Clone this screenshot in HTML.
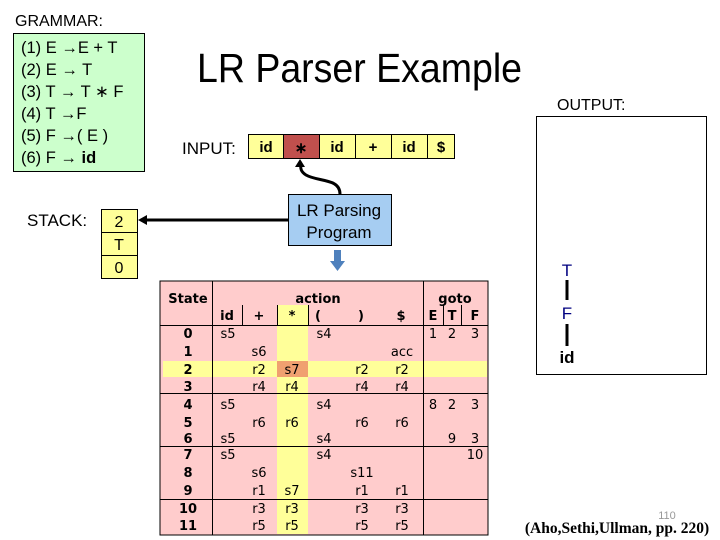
<!DOCTYPE html>
<html><head><meta charset="utf-8"><style>
body{margin:0;background:#fff}
svg{display:block}
</style></head><body>
<svg width="720" height="540" viewBox="0 0 720 540" xmlns="http://www.w3.org/2000/svg" font-family="Liberation Sans, Arial, sans-serif">
<text x="15" y="26" font-size="16">GRAMMAR:</text>
<rect x="13.5" y="33.5" width="131" height="138" fill="#ccffcc" stroke="#000"/>
<g font-size="16.5">
<text x="21" y="53">(1) E  →E + T</text>
<text x="21" y="75">(2) E → T</text>
<text x="21" y="97">(3) T  → T ∗ F</text>
<text x="21" y="119">(4) T  →F</text>
<text x="21" y="141">(5) F  →( E )</text>
<text x="21" y="163">(6) F  → <tspan font-weight="bold">id</tspan></text>
</g>
<text x="197" y="82" font-size="41" textLength="325" lengthAdjust="spacingAndGlyphs">LR Parser Example</text>
<text x="557" y="110" font-size="16">OUTPUT:</text>
<rect x="536.5" y="116.5" width="170" height="258" fill="#fff" stroke="#000"/>
<text x="182" y="154" font-size="17">INPUT:</text>
<g stroke="#000" stroke-width="1">
<rect x="248.5" y="134.5" width="35" height="24" fill="#ffff99"/>
<rect x="283.5" y="134.5" width="36" height="24" fill="#c0504d"/>
<rect x="319.5" y="134.5" width="36" height="24" fill="#ffff99"/>
<rect x="355.5" y="134.5" width="36" height="24" fill="#ffff99"/>
<rect x="391.5" y="134.5" width="36" height="24" fill="#ffff99"/>
<rect x="427.5" y="134.5" width="27" height="24" fill="#ffff99"/>
</g>
<g font-size="15" font-weight="bold" text-anchor="middle">
<text x="266" y="152">id</text><text x="301" y="153">∗</text><text x="337" y="152">id</text><text x="373" y="152">+</text><text x="409" y="152">id</text><text x="441" y="152">$</text>
</g>
<path d="M340 194 C340 178,318 182,306 175 C298 170,302 165,300 162" fill="none" stroke="#000" stroke-width="3"/>
<polygon points="300,159 295,167 305,167" fill="#000"/>
<rect x="288.5" y="194.5" width="103" height="51" fill="#a6cdf2" stroke="#000"/>
<text x="339" y="216" font-size="17" text-anchor="middle">LR Parsing</text>
<text x="339" y="238" font-size="17" text-anchor="middle">Program</text>
<line x1="288" y1="220" x2="144" y2="220" stroke="#000" stroke-width="3"/>
<polygon points="138,220 147,215 147,225" fill="#000"/>
<rect x="334" y="250" width="7" height="12" fill="#4f81bd"/>
<polygon points="330,261 345,261 337.5,271" fill="#4f81bd"/>
<text x="27" y="226" font-size="17">STACK:</text>
<g stroke="#000"><rect x="101.5" y="209.5" width="36" height="23" fill="#ffff99"/><rect x="101.5" y="232.5" width="36" height="23" fill="#ffff99"/><rect x="101.5" y="255.5" width="36" height="23" fill="#ffff99"/></g>
<g font-size="16" text-anchor="middle"><text x="119" y="227">2</text><text x="119" y="250">T</text><text x="119" y="273">0</text></g>
<text x="567" y="276" font-size="17" fill="#000080" text-anchor="middle">T</text>
<line x1="567" y1="280" x2="567" y2="300" stroke="#000" stroke-width="3"/>
<text x="567" y="319" font-size="17" fill="#000080" text-anchor="middle">F</text>
<line x1="567" y1="324" x2="567" y2="346" stroke="#000" stroke-width="3"/>
<text x="567" y="363" font-size="17" font-weight="bold" text-anchor="middle">id</text>
<!-- table -->
<rect x="160" y="281" width="328" height="254" fill="#ffcccc" stroke="#000"/>
<rect x="277" y="305" width="31" height="229" fill="#ffff99"/>
<rect x="163" y="361" width="324" height="16" fill="#ffff99"/>
<rect x="277" y="361" width="31" height="16" fill="#f0a070"/>
<g stroke="#000" stroke-width="1">
<line x1="212.5" y1="281" x2="212.5" y2="535"/>
<line x1="423.5" y1="281" x2="423.5" y2="535"/>
<line x1="242.5" y1="305" x2="242.5" y2="325"/>
<line x1="277.5" y1="305" x2="277.5" y2="325"/>
<line x1="308.5" y1="305" x2="308.5" y2="325"/>
<line x1="443.5" y1="305" x2="443.5" y2="325"/>
<line x1="461.5" y1="305" x2="461.5" y2="325"/>
<line x1="160" y1="325.5" x2="488" y2="325.5"/>
<line x1="160" y1="393.5" x2="488" y2="393.5"/>
<line x1="160" y1="446.5" x2="488" y2="446.5"/>
<line x1="160" y1="499.5" x2="488" y2="499.5"/>
</g>
<g font-family="DejaVu Sans, Verdana, sans-serif" font-size="13" font-weight="bold" text-anchor="middle">
<text x="188" y="303">State</text><text x="318" y="303">action</text><text x="455" y="303">goto</text>
<text x="227" y="320">id</text><text x="259" y="320">+</text><text x="292" y="320">*</text><text x="318" y="320">(</text><text x="361" y="320">)</text><text x="401" y="320">$</text><text x="433" y="320">E</text><text x="452" y="320">T</text><text x="475" y="320">F</text>
<text x="188" y="338">0</text><text x="188" y="356">1</text><text x="188" y="374">2</text><text x="188" y="391">3</text><text x="188" y="409">4</text><text x="188" y="427">5</text><text x="188" y="443">6</text><text x="188" y="459">7</text><text x="188" y="477">8</text><text x="188" y="495">9</text><text x="188" y="513">10</text><text x="188" y="530">11</text>
</g>
<g font-family="DejaVu Sans, Verdana, sans-serif" font-size="13" text-anchor="middle">
<text x="228" y="338">s5</text><text x="324" y="338">s4</text><text x="433" y="338">1</text><text x="452" y="338">2</text><text x="475" y="338">3</text>
<text x="259" y="356">s6</text><text x="402" y="356">acc</text>
<text x="259" y="374">r2</text><text x="292" y="374">s7</text><text x="362" y="374">r2</text><text x="402" y="374">r2</text>
<text x="259" y="391">r4</text><text x="292" y="391">r4</text><text x="362" y="391">r4</text><text x="402" y="391">r4</text>
<text x="228" y="409">s5</text><text x="324" y="409">s4</text><text x="433" y="409">8</text><text x="452" y="409">2</text><text x="475" y="409">3</text>
<text x="259" y="427">r6</text><text x="292" y="427">r6</text><text x="362" y="427">r6</text><text x="402" y="427">r6</text>
<text x="228" y="443">s5</text><text x="324" y="443">s4</text><text x="452" y="443">9</text><text x="475" y="443">3</text>
<text x="228" y="459">s5</text><text x="324" y="459">s4</text><text x="475" y="459">10</text>
<text x="259" y="477">s6</text><text x="362" y="477">s11</text>
<text x="259" y="495">r1</text><text x="292" y="495">s7</text><text x="362" y="495">r1</text><text x="402" y="495">r1</text>
<text x="259" y="513">r3</text><text x="292" y="513">r3</text><text x="362" y="513">r3</text><text x="402" y="513">r3</text>
<text x="259" y="530">r5</text><text x="292" y="530">r5</text><text x="362" y="530">r5</text><text x="402" y="530">r5</text>
</g>
<text x="667" y="519" font-size="11" fill="#999" text-anchor="middle">110</text>
<text x="617" y="533" font-size="15.5" font-weight="bold" font-family="Liberation Serif, serif" text-anchor="middle">(Aho,Sethi,Ullman, pp. 220)</text>
</svg>
</body></html>
